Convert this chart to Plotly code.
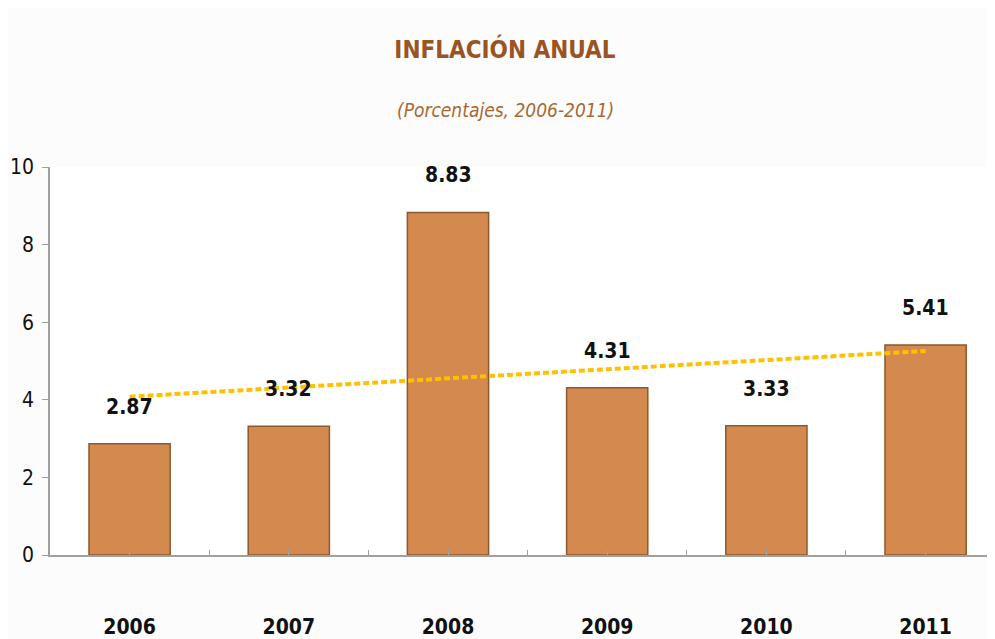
import plotly.graph_objects as go

years = [2006, 2007, 2008, 2009, 2010, 2011]
year_labels = ["2006", "2007", "2008", "2009", "2010", "2011"]
inflation = [2.87, 3.32, 8.83, 4.31, 3.33, 5.41]
value_labels = ["2.87", "3.32", "8.83", "4.31", "3.33", "5.41"]

# linear trend (start / end)
trend_years = [2006, 2011]
trend_values = [4.08, 5.26]

FONT = "DejaVu Sans Condensed, Liberation Sans Narrow, sans-serif"

fig = go.Figure()

fig.add_trace(go.Bar(
    x=years,
    y=inflation,
    width=0.51,
    marker=dict(color="#D4894F", line=dict(color="#8B5A2B", width=1.5)),
    hoverinfo="x+y",
))

fig.add_trace(go.Scatter(
    x=trend_years,
    y=trend_values,
    mode="lines",
    line=dict(color="#FFC000", width=4, dash="6px,3px"),
    hoverinfo="skip",
))

# data labels above the bars
for yr, val, lab in zip(years, inflation, value_labels):
    fig.add_annotation(
        x=yr, y=val, text="<b>" + lab + "</b>",
        showarrow=False, yanchor="middle", yshift=37,
        font=dict(family=FONT, size=21, color="#111111"),
    )

fig.add_annotation(
    x=0.4815, y=1.18, xref="paper", yref="paper",
    text="<i>(Porcentajes, 2006-2011)</i>", showarrow=False,
    font=dict(family=FONT, size=19, color="#A8682F"),
)

# page body has an 8px margin, so the figure is a bit smaller than the window
fig.update_layout(
    title=dict(
        text="<b>INFLACIÓN ANUAL</b>",
        x=0.5035, xanchor="center",
        y=1 - 42 / 631, yanchor="middle",
        font=dict(family=FONT, size=24, color="#9A5424"),
    ),
    width=987,
    height=631,
    margin=dict(l=42, r=0, t=159, b=84),
    paper_bgcolor="#FCFCFC",
    plot_bgcolor="#FFFFFF",
    showlegend=False,
)

fig.update_xaxes(
    range=[2005.5, 2011.436],
    tickvals=years,
    ticktext=["<b>" + t + "</b>" for t in year_labels],
    ticks="inside",
    ticklen=5,
    tickcolor="#A0A0A0",
    minor=dict(ticks="inside", dtick=1, tick0=2005.5, ticklen=5, tickcolor="#A0A0A0"),
    showline=True,
    linecolor="#A0A0A0",
    linewidth=1.5,
    showgrid=False,
    zeroline=False,
    automargin=False,
    ticklabelstandoff=52,
    tickfont=dict(family=FONT, size=21, color="#111111"),
)

fig.update_yaxes(
    range=[0, 10],
    dtick=2,
    ticks="outside",
    ticklen=6,
    tickcolor="#A0A0A0",
    showline=True,
    linecolor="#A0A0A0",
    linewidth=1.5,
    showgrid=False,
    zeroline=False,
    automargin=False,
    ticklabelstandoff=4,
    tickfont=dict(family=FONT, size=21, color="#111111"),
)

fig.write_html("out.html")
